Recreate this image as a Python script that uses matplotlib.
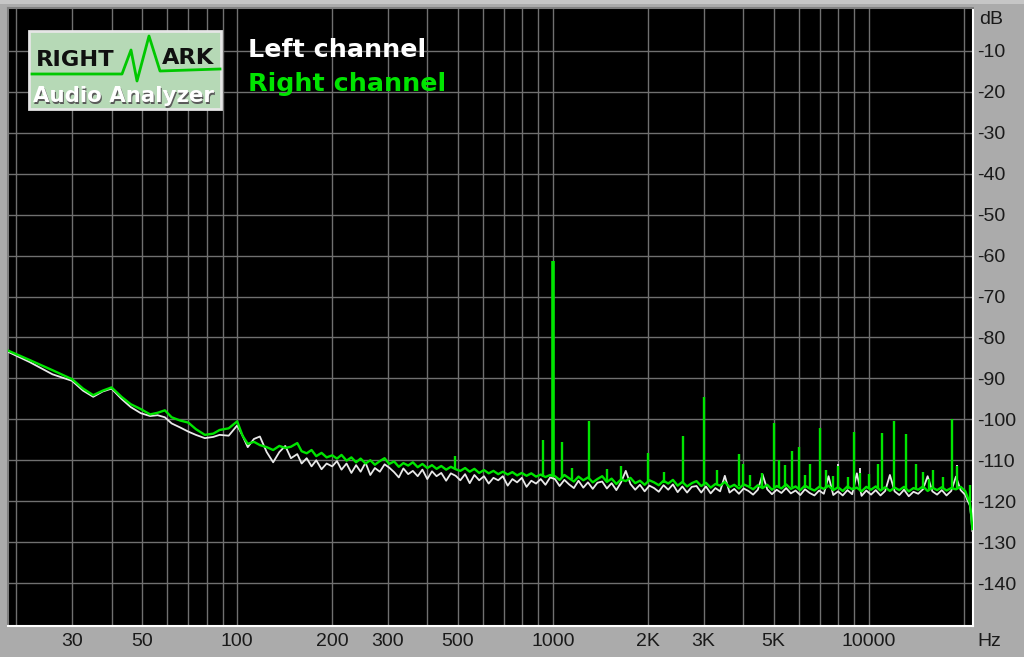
"""RightMark Audio Analyzer style spectrum plot (noise floor with 1 kHz tone), recreated."""
import matplotlib
matplotlib.use("Agg")
import matplotlib.pyplot as plt
from matplotlib.patches import Rectangle

# ---- noise floor (Hz, dB) -----------------------------------------------------------------
FREQ = [18.8, 22, 26, 30, 32.5, 35, 37.5, 40, 43, 46, 49.5, 53, 56, 59, 62, 66, 70, 74, 79, 84,
        88, 94, 100, 104, 108, 113, 118, 124, 130, 136, 142, 148, 155, 160, 166, 172, 178, 185,
        192,
        200, 207, 214, 222, 230, 238, 246, 255, 264, 273, 283, 293, 303, 314, 325, 336, 348, 360,
        373, 386, 400, 414, 428, 443, 459, 475, 492, 509, 527, 545, 564, 584, 605, 626, 648, 671,
        694, 719, 744, 770, 797, 825, 854, 884, 915, 947, 980,
        1015, 1050, 1087, 1125, 1165, 1205, 1248, 1291, 1337, 1383, 1432, 1482, 1534, 1588, 1643,
        1701, 1760, 1822, 1886, 1952, 2020, 2091, 2164, 2240, 2318, 2399, 2483, 2570, 2660, 2753,
        2850, 2949, 3052, 3159, 3270, 3384, 3503, 3625, 3752, 3883, 4019, 4160, 4305, 4456, 4612,
        4773, 4940, 5113, 5292, 5477, 5669, 5867, 6072, 6285, 6505, 6732, 6968, 7212, 7464, 7725,
        7996, 8276, 8565, 8865, 9175, 9497, 9829,
        10173, 10529, 10898, 11279, 11674, 12083, 12505, 12943, 13396, 13865, 14350, 14853, 15372,
        15910, 16467, 17044, 17640, 18258, 18897, 19558, 20242, 20600, 20900, 21100, 21300]

RIGHT_DB = [-83.2, -85.5, -88, -90.2, -92.5, -94.1, -93, -92.2, -94.5, -96.3, -97.5, -98.8, -98.4,
            -97.8, -99.5, -100.3, -100.8, -102.4, -103.8, -103.5, -102.6, -102.2, -100.5, -104,
            -106, -105.5, -106.3, -106.8, -107.5, -106.5, -107, -106.7, -105.8, -107.8, -108.3,
            -107.5, -109, -108.2, -109.3,
            -108.8, -109.6, -108.7, -110.1, -109.3, -110.5, -109.6, -110.8, -110, -111.1, -110.2,
            -109.5, -110.9, -110.3, -111.6, -110.7, -111.3, -110.5, -111.7, -110.9, -111.9, -111.2,
            -112.1, -111.4, -112.3, -111.6, -112.2, -112.6, -111.9, -112.8, -112.1, -113.1,
            -112.4, -113.2, -112.6, -113.4, -112.8, -113.5, -112.9, -113.7, -113.1, -113.8,
            -113.2, -114, -113.5, -114.1, -113.6,
            -113.9, -114.8, -113.6, -114.4, -115.2, -114.0, -114.9, -114.2, -115.4, -114.6,
            -113.9, -115.3, -114.5, -115.8, -114.7, -115.1, -114.3, -115.6, -115.0, -116.0,
            -114.9, -115.4, -116.1, -115.0, -115.7, -114.8, -116.2, -115.3, -116.4, -115.6,
            -115.1, -116.3, -115.5, -116.7, -115.8, -116.2, -115.3, -116.6, -116.0, -116.9,
            -115.9, -116.4, -117.1, -116.1, -116.8, -116.0, -117.2, -116.3, -116.9, -115.9,
            -117.0, -116.4, -117.3, -116.2, -116.9, -117.4, -116.5, -117.0, -116.2, -117.3,
            -116.6, -117.5, -116.4, -117.1, -116.7, -117.6, -116.5,
            -117.2, -116.4, -117.4, -116.6, -117.5, -116.7, -117.3, -116.5, -117.6, -116.8,
            -117.2, -116.4, -117.5, -116.7, -117.3, -116.6, -117.4, -116.8, -117.1, -116.5,
            -117.6, -119.2, -120.2, -123.0, -126.8]

LEFT_DB = [-83.5, -86, -89, -90.6, -93, -94.5, -93.2, -92.5, -95, -97, -98.5, -99.2, -99, -99.5,
           -101, -102, -103, -103.8, -104.6, -104.3, -103.8, -104, -101.5, -104, -106.8, -104.8,
           -104.2, -108, -110.5, -108, -106.5, -109.5, -108.5, -110.8, -109.5, -111.5, -110,
           -112.2, -110.8,
           -111.5, -110.2, -112.3, -110.8, -113.1, -111.2, -112.8, -110.6, -113.6, -111.9, -112.8,
           -111, -111.8, -112.9, -114.2, -112, -113.4, -112.6, -113.9, -112.3, -114.6, -112.7,
           -113.9, -113.1, -115, -113.2, -113.8, -114.9, -113.4, -115.6, -113.6, -114.9, -113.9,
           -115.7, -114.3, -114.9, -113.9, -116.2, -114.6, -115.4, -114.3, -116.5, -115, -115.7,
           -114.6, -116, -114.2,
           -114.6, -116.3, -114.8, -115.9, -116.8, -115.0, -116.7, -115.4, -117.0, -115.5,
           -115.2, -116.9, -115.6, -117.3, -115.4, -112.6, -115.8, -117.2, -116.0, -117.6,
           -116.2, -116.8, -117.7, -116.1, -117.2, -115.9, -117.8, -116.4, -117.9, -116.5,
           -116.3, -117.9, -116.4, -118.1, -116.8, -117.6, -113.8, -117.9, -117.0, -118.2,
           -116.9, -117.5, -118.4, -117.2, -113.5, -117.1, -118.3, -117.2, -118.0, -116.8,
           -118.1, -117.4, -118.5, -117.1, -118.0, -118.6, -117.4, -118.2, -113.9, -118.5,
           -117.6, -118.6, -117.3, -118.3, -113.2, -118.7, -117.4,
           -118.4, -117.3, -118.6, -117.5, -113.6, -117.6, -118.5, -117.2, -118.8, -117.7,
           -118.2, -117.1, -113.9, -117.6, -118.4, -117.3, -118.6, -117.5, -114.0, -117.3,
           -118.5, -120.0, -121.0, -123.5, -127.3]

# ---- discrete tones / harmonics standing out of the floor (Hz, base dB, peak dB) -------------
SPIKE_HZ = [490, 930, 1000, 1070, 1150, 1300, 1480, 1640, 2000, 2250, 2580, 3000, 3300, 3880,
            4000, 4200, 4600, 5000, 5200, 5440, 5700, 6000, 6300, 6500, 7000, 7300, 7700, 8000,
            8600, 9000, 9370, 10000, 10700, 11000, 12000, 13100, 14100, 14900, 15500, 16000,
            17200, 18300, 19000, 20900]
SPIKE_BASE = [-112.2, -114, -114, -114, -114.5, -114.5, -115, -115, -115, -115.5, -115.5, -115.8,
              -116, -116.2, -116.3, -116.4, -116.5, -116.5, -116.5, -116.6, -116.6, -116.7, -116.8,
              -116.8, -116.8, -116.9, -117, -116.9, -117, -117, -117, -117, -117, -117, -117,
              -117, -117, -117, -117, -117, -117, -117, -117, -120]
SPIKE_RIGHT = [-109, -105, -61.2, -105.6, -111.8, -100.5, -112.2, -111.5, -108.3, -112.8, -104,
               -94.5, -112.5, -108.5, -111, -113.6, -113.2, -101, -110, -111.2, -107.8, -106.8,
               -113.5, -111, -102, -112.5, -113.8, -111.3, -114.2, -103, -113, -113.4, -111,
               -103.4, -100.5, -103.7, -111, -112.8, -114.5, -112.5, -114.2, -100, -111.5, -116]
SPIKE_LEFT = [-111, -106, -61.5, -107.5, -113, -102.5, -113.5, -112.5, -110, -114, -105.5, -95.5,
              -113.5, -110, -112.5, -114.5, -114, -103, -111.5, -112, -109, -108.5, -114.5, -112.5,
              -104, -113, -114.5, -110.8, -115, -105, -112, -114, -112, -105, -102, -105, -111.2,
              -113, -115, -112.8, -115, -102, -111.2, -118]

GRID_HZ = [20, 30, 40, 50, 60, 70, 80, 90, 100, 200, 300, 400, 500, 600, 700, 800, 900,
           1000, 2000, 3000, 4000, 5000, 6000, 7000, 8000, 9000, 10000, 20000]
X_TICKS = [30, 50, 100, 200, 300, 500, 1000, 2000, 3000, 5000, 10000]
X_LABELS = ["30", "50", "100", "200", "300", "500", "1000", "2K", "3K", "5K", "10000"]
Y_TICKS = [-10, -20, -30, -40, -50, -60, -70, -80, -90, -100, -110, -120, -130, -140]
Y_LABELS = [str(v) for v in Y_TICKS]

BG, GRIDC, GREEN, WHITE = "#ababab", "#707070", "#00e400", "#e8e8e8"
W, H = 1024, 657
FONT = "Liberation Sans"

fig = plt.figure(figsize=(W / 100, H / 100), dpi=100, facecolor=BG)
ax = fig.add_axes([8 / W, 31 / H, 965 / W, 618 / H], facecolor="black")
ax.set_xscale("log")
ax.set_xlim(18.8, 21400)
ax.set_ylim(-150.5, 0.5)

ax.set_xticks(GRID_HZ, minor=True)
ax.set_xticks(X_TICKS, X_LABELS)
ax.set_yticks(Y_TICKS, Y_LABELS)
ax.yaxis.tick_right()
ax.tick_params(axis="both", which="both", length=0, labelsize=14, labelcolor="#1a1a1a")
ax.tick_params(axis="x", pad=5)
ax.tick_params(axis="y", pad=3)
for lab in ax.get_xticklabels() + ax.get_yticklabels():
    lab.set_fontfamily(FONT)
ax.grid(which="both", color=GRIDC, lw=1.0)
ax.set_axisbelow(True)
for side, col in (("top", "#808080"), ("left", "#808080"), ("bottom", "white"), ("right", "white")):
    ax.spines[side].set_color(col); ax.spines[side].set_linewidth(1.5)

# left channel first, right channel drawn over it (as in the analyzer)
ax.plot(FREQ, LEFT_DB, color=WHITE, lw=1.3, zorder=3)
ax.vlines(SPIKE_HZ, SPIKE_BASE, SPIKE_LEFT, color=WHITE, lw=1.3, zorder=3)
ax.plot(FREQ, RIGHT_DB, color=GREEN, lw=1.7, zorder=4)
ax.vlines(SPIKE_HZ, SPIKE_BASE, SPIKE_RIGHT, color=GREEN,
          lw=[2.6 if f == 1000 else 1.7 for f in SPIKE_HZ], zorder=4)

# ---- overlay in pixel coordinates: logo, legend text, units --------------------------------
ov = fig.add_axes([0, 0, 1, 1], facecolor="none")
ov.set_xlim(0, W); ov.set_ylim(H, 0); ov.axis("off")
ov.add_patch(Rectangle((0, 0), W, 4, color="#c6c6c6", lw=0))
ov.add_patch(Rectangle((29, 31), 192, 78, facecolor="#b6d9b6", edgecolor="#e6e6e6", lw=2))
ov.plot([32, 122, 131, 137, 149, 160, 220], [74, 74, 50, 81, 36, 71, 69], color="#00c800", lw=2)
ov.text(36, 60, "RIGHT", fontsize=16.2, fontweight="bold", color="#101010", va="center",
        family="DejaVu Sans")
ov.text(162, 58, "ARK", fontsize=16.2, fontweight="bold", color="#101010", va="center",
        family="DejaVu Sans")
ov.text(34.5, 97.5, "Audio Analyzer", fontsize=15.4, fontweight="bold", color="#5a5a5a",
        va="center", family="DejaVu Sans")
ov.text(33, 96, "Audio Analyzer", fontsize=15.4, fontweight="bold", color="white",
        va="center", family="DejaVu Sans")

ov.text(248, 50, "Left channel", fontsize=18.3, fontweight="bold", color="white", va="center",
        family="DejaVu Sans")
ov.text(248, 84, "Right channel", fontsize=18.3, fontweight="bold", color=GREEN, va="center",
        family="DejaVu Sans")
ov.text(979, 20, "dB", fontsize=14, color="#1a1a1a", va="center", family=FONT)
ov.text(977, 641, "Hz", fontsize=14, color="#1a1a1a", va="center", family=FONT)

fig.savefig("out.png", dpi=100, facecolor=BG)
